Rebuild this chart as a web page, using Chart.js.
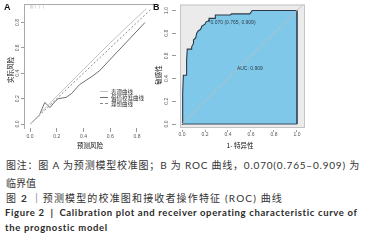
<!DOCTYPE html>
<html>
<head>
<meta charset="utf-8">
<script src="https://cdn.jsdelivr.net/npm/chart.js@4.4.0/dist/chart.umd.min.js"></script>
<style>
  html, body { margin: 0; padding: 0; background: #fff; }
  body { width: 371px; height: 240px; position: relative; overflow: hidden; font-family: "Noto Sans CJK SC", sans-serif; }
  canvas { position: absolute; top: 0; }
  #cA { left: 0; }
  #cB { left: 150px; }
  .lbl { position: absolute; font: bold 9px "Liberation Sans", Arial, sans-serif; color: #111; line-height: 11px; }
  .ax { position: absolute; font-size: 6.5px; color: #111; white-space: nowrap; line-height: 8px; transform: translate(-50%, -50%); }
  .rot { transform: translate(-50%, -50%) rotate(-90deg); }
  .leg { position: absolute; left: 100px; font-size: 5.5px; color: #333; line-height: 6px; height: 6px; white-space: nowrap; }
  .leg i { display: inline-block; width: 8px; height: 0; vertical-align: middle; margin-right: 3px; position: relative; top: -1px; }
  .cap { position: absolute; left: 6px; height: 16px; line-height: 16px; white-space: nowrap; font-size: 10px; color: #333;
         font-family: "Lato", "Noto Sans CJK SC", sans-serif; }
  .en { font-weight: bold; left: 5px; font-size: 9.5px; color: #2a2a2a; }
</style>
</head>
<body>
<canvas id="cA" width="160" height="150"></canvas>
<canvas id="cB" width="221" height="150"></canvas>

<div class="lbl" style="left:4px; top:2px;">A</div>
<div class="lbl" style="left:153px; top:2px;">B</div>

<div class="ax rot" style="left:10px; top:70px;">实际风险</div>
<div class="ax" style="left:90px; top:145px;">预测风险</div>
<div class="ax rot" style="left:158px; top:75px;">敏感性</div>
<div class="ax" style="left:240px; top:145px;">1- 特异性</div>

<div class="leg" style="top:89px;"><i style="border-top:1px solid #c4c4c4;"></i>表观曲线</div>
<div class="leg" style="top:95px;"><i style="border-top:1px solid #6e6e6e;"></i>偏倚校准曲线</div>
<div class="leg" style="top:101px;"><i style="border-top:1px dashed #888;"></i>理想曲线</div>

<div class="cap" data-w="354" style="top:157px;">图注：图 A 为预测模型校准图；B 为 ROC 曲线，0.070(0.765–0.909) 为</div>
<div class="cap" style="top:175px;">临界值</div>
<div class="cap" data-w="277" style="top:190px;">图 <b>2</b> ｜预测模型的校准图和接收者操作特征 (ROC) 曲线</div>
<div class="cap en" data-w="353" style="top:205px;">Figure 2 &nbsp;| &nbsp;Calibration plot and receiver operating characteristic curve of</div>
<div class="cap en" data-w="103" style="top:220px;">the prognostic model</div>

<script>
// A: calibration curves
const calTicks = [0, 0.2, 0.4, 0.6, 0.8];
const idealX = [0, 0.9];
const idealY = [0, 0.9];
const apparentX = [0, 0.05, 0.1, 0.2, 0.4, 0.6, 0.87];
const apparentY = [0, 0.05, 0.11, 0.22, 0.43, 0.64, 0.91];
const biasX = [0, 0.03, 0.07, 0.11, 0.15, 0.18, 0.21, 0.27, 0.31, 0.37, 0.47, 0.52, 0.86];
const biasY = [0, 0.03, 0.07, 0.17, 0.13, 0.17, 0.20, 0.21, 0.24, 0.31, 0.38, 0.42, 0.80];
const rugX = [0.005, 0.01, 0.02, 0.04, 0.07, 0.1];
const rugY = 0.925;

// B: ROC curve
const rocTicks = [0, 0.2, 0.4, 0.6, 0.8, 1.0];
const fpr = [0, 0.006, 0.012, 0.035, 0.04, 0.046, 0.084, 0.084, 0.1, 0.1, 0.12, 0.128, 0.14, 0.157,
             0.17, 0.17, 0.2, 0.21, 0.235, 0.235, 0.29, 0.29, 0.42, 0.43, 0.59, 0.61, 1.0];
const tpr = [0, 0.27, 0.43, 0.43, 0.56, 0.66, 0.66, 0.68, 0.71, 0.74, 0.76, 0.80, 0.82, 0.83,
             0.85, 0.86, 0.88, 0.9, 0.91, 0.93, 0.93, 0.96, 0.96, 0.97, 0.97, 1.0, 1.0];
const cutX = [0.235];
const cutY = [0.909];
const cutLabel = '0.070 (0.765, 0.909)';
const aucLabel = 'AUC: 0.909';

Chart.defaults.font.family = '"Liberation Sans", Arial, sans-serif';
Chart.defaults.font.size = 5;
Chart.defaults.color = '#555';

function pts(xs, ys) {
  return xs.map((x, i) => ({ x: x, y: ys[i] }));
}
function fixTicks(vals) {
  return s => { s.ticks = vals.map(v => ({ value: v })); };
}

new Chart(document.getElementById('cA'), {
  type: 'scatter',
  data: {
    datasets: [
      { data: pts(apparentX, apparentY), showLine: true, borderColor: '#c4c4c4', borderWidth: 1, pointRadius: 0 },
      { data: pts(biasX, biasY), showLine: true, borderColor: '#6e6e6e', borderWidth: 1, pointRadius: 0 },
      { data: pts(idealX, idealY), showLine: true, borderColor: '#888', borderWidth: 1, borderDash: [2, 2], pointRadius: 0 },
      { data: rugX.map(x => ({ x: x, y: rugY })), pointStyle: 'line', rotation: 90, pointRadius: 2,
        borderColor: '#c8c8c8', borderWidth: 0.6 }
    ]
  },
  options: {
    responsive: false,
    animation: false,
    events: [],
    layout: { padding: { left: 0, right: 7, top: 4, bottom: 0 } },
    plugins: { legend: { display: false }, tooltip: { enabled: false } },
    scales: {
      x: {
        min: -0.045, max: 0.92,
        afterBuildTicks: fixTicks(calTicks),
        afterFit: s => { s.height = 22; },
        grid: { drawOnChartArea: false, tickLength: 4, color: '#999' },
        border: { display: false },
        ticks: { padding: 2, maxRotation: 0, callback: v => v.toFixed(1) }
      },
      xTop: {
        type: 'linear', position: 'top', display: true,
        afterFit: s => { s.height = 0; },
        grid: { display: false },
        border: { display: true, color: '#aaa' },
        ticks: { display: false }
      },
      y: {
        min: -0.031, max: 0.941,
        afterBuildTicks: fixTicks(calTicks),
        afterFit: s => { s.width = 24; },
        grid: { drawOnChartArea: false, tickLength: 3, color: '#999' },
        border: { display: true, color: '#aaa' },
        ticks: { padding: 0, minRotation: 90, maxRotation: 90, crossAlign: 'center', callback: v => v.toFixed(1) }
      }
    }
  }
});

const rocFrame = {
  id: 'rocFrame',
  beforeDraw(chart) {
    const a = chart.chartArea, ctx = chart.ctx;
    ctx.save();
    ctx.fillStyle = '#ebebeb';
    ctx.fillRect(a.left, a.top, a.right - a.left, a.bottom - a.top);
    ctx.restore();
  },
  afterDraw(chart) {
    const a = chart.chartArea, ctx = chart.ctx;
    const sx = chart.scales.x, sy = chart.scales.y;
    ctx.save();
    ctx.strokeStyle = '#c4c4c4';
    ctx.lineWidth = 1;
    ctx.strokeRect(a.left + 0.5, a.top + 0.5, a.right - a.left - 1, a.bottom - a.top - 1);
    ctx.fillStyle = '#2c3a48';
    ctx.font = '5px "Liberation Sans", Arial, sans-serif';
    ctx.textBaseline = 'middle';
    ctx.textAlign = 'left';
    ctx.fillText(cutLabel, sx.getPixelForValue(cutX[0]) + 1.5, sy.getPixelForValue(cutY[0]) + 1.5);
    ctx.textAlign = 'center';
    ctx.fillText(aucLabel, sx.getPixelForValue(0.59), sy.getPixelForValue(0.49));
    ctx.restore();
  }
};

new Chart(document.getElementById('cB'), {
  type: 'scatter',
  data: {
    datasets: [
      { data: [{ x: -0.1, y: -0.1 }, { x: 1.2, y: 1.2 }], showLine: true, borderColor: 'rgba(190,190,190,0.85)',
        borderWidth: 1, pointRadius: 0, order: 0 },
      { data: pts(cutX, cutY), pointRadius: 1, backgroundColor: '#2c3a48', borderWidth: 0, order: 0 },
      { data: [{ x: 1, y: 1 }, { x: 1, y: 0 }, { x: 0, y: 0 }], showLine: true, borderColor: '#3b4c5c',
        borderWidth: 1, pointRadius: 0, order: 1 },
      { data: pts(fpr, tpr), showLine: true, fill: 'origin', backgroundColor: '#80c8e9', borderColor: '#2c3a48',
        borderWidth: 1.1, pointRadius: 0, order: 2 }
    ]
  },
  options: {
    responsive: false,
    animation: false,
    events: [],
    layout: { padding: { left: 0, right: 66, top: 4, bottom: 0 } },
    plugins: { legend: { display: false }, tooltip: { enabled: false } },
    scales: {
      x: {
        min: -0.0174, max: 1.0696,
        afterBuildTicks: fixTicks(rocTicks),
        afterFit: s => { s.height = 22; },
        grid: { drawOnChartArea: false, tickLength: 4, color: '#999', tickBorderDash: [0, 2, 2, 0] },
        border: { display: false },
        ticks: { padding: 0, maxRotation: 0, callback: v => v.toFixed(1) }
      },
      y: {
        min: -0.035, max: 1.0526,
        afterBuildTicks: fixTicks(rocTicks),
        afterFit: s => { s.width = 30; },
        grid: { drawOnChartArea: false, tickLength: 8, color: '#999', tickBorderDash: [4, 4] },
        border: { display: false },
        ticks: { padding: 1.5, minRotation: 90, maxRotation: 90, crossAlign: 'center', callback: v => v.toFixed(1) }
      }
    }
  },
  plugins: [rocFrame]
});

// stretch caption lines to the widths measured on the reference
function fitCaps() {
  document.querySelectorAll('.cap[data-w]').forEach(el => {
    el.style.letterSpacing = '0px';
    const w = el.getBoundingClientRect().width;
    const n = el.textContent.length;
    el.style.letterSpacing = ((+el.dataset.w - w) / n) + 'px';
  });
}
fitCaps();
if (document.fonts) document.fonts.ready.then(fitCaps);
</script>
</body>
</html>
